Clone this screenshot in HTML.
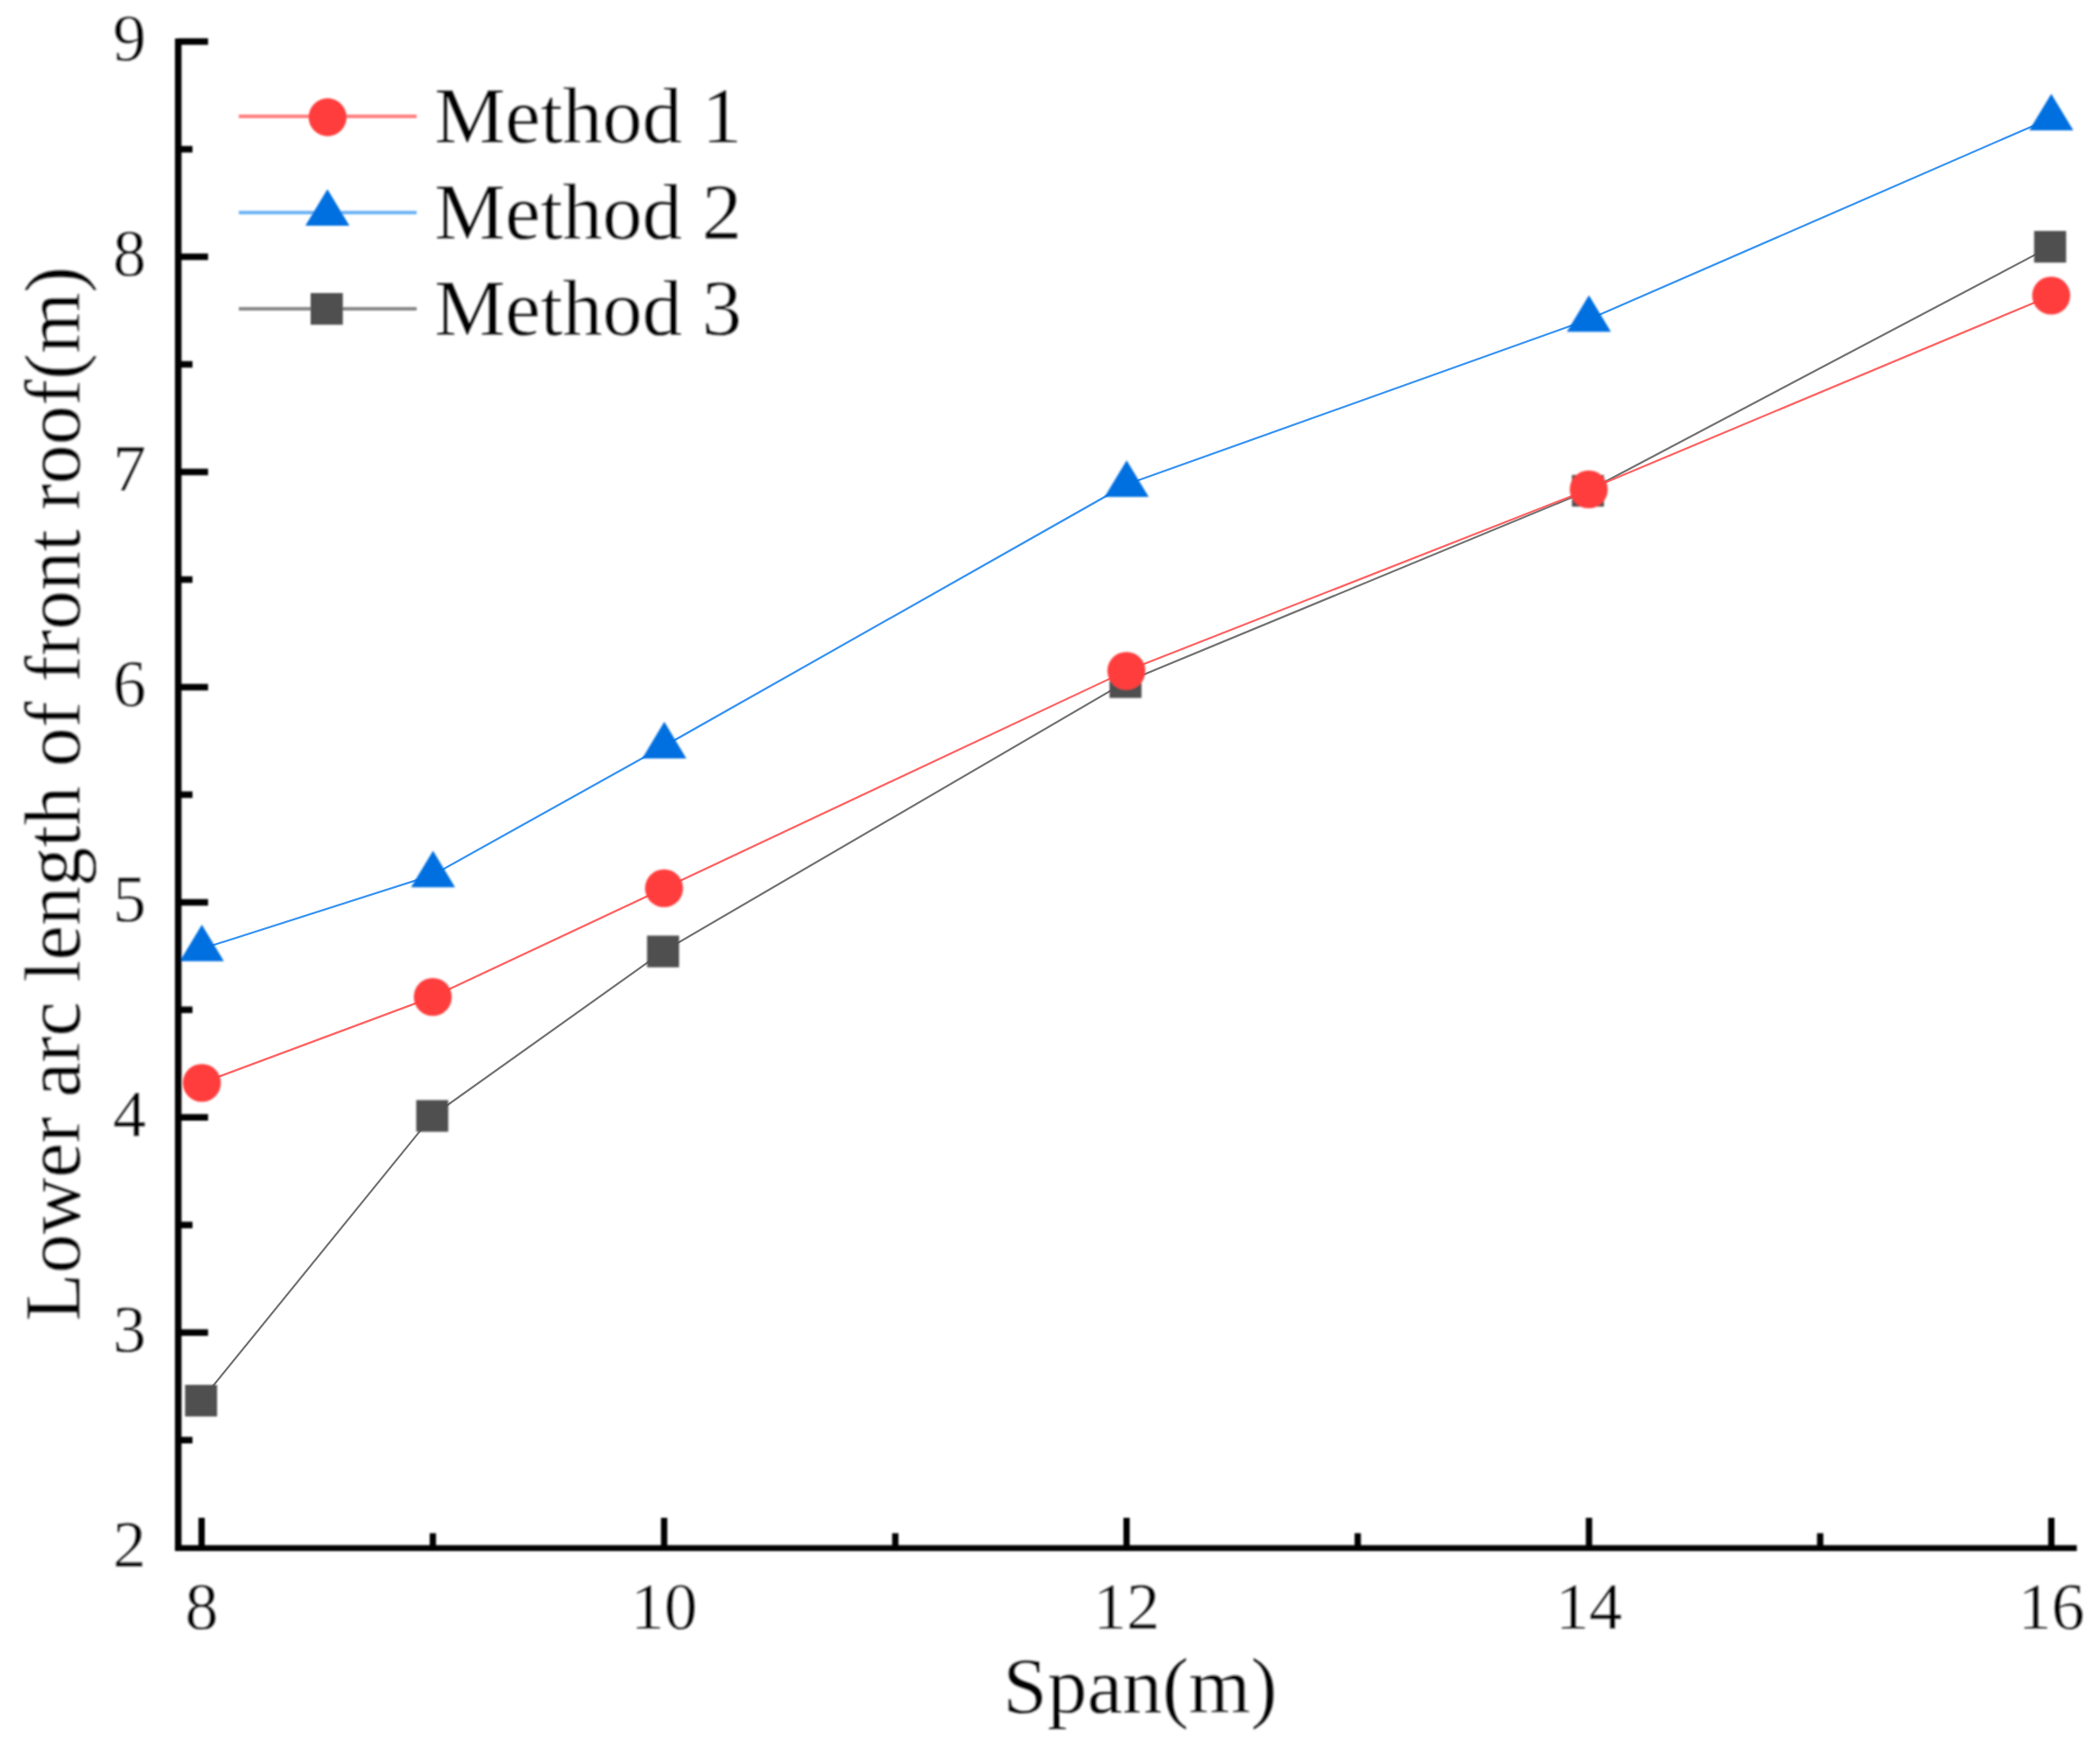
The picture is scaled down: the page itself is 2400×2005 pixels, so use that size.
<!DOCTYPE html>
<html lang="en"><head><meta charset="utf-8"><title>Lower arc length of front roof</title>
<style>
html,body{margin:0;padding:0;background:#fff;}
body{width:2400px;height:2005px;overflow:hidden;}
svg{display:block;}
text{font-family:"Liberation Serif",serif;fill:#000;stroke:#fff;stroke-width:0.35px;}
.tk{font-size:76px;}
.tt{font-size:91px;}
</style></head><body>
<svg width="2400" height="2005" viewBox="0 0 2400 2005">
<rect width="2400" height="2005" fill="#fff"/>
<defs><filter id="soft" x="0" y="0" width="2400" height="2005" filterUnits="userSpaceOnUse"><feGaussianBlur stdDeviation="0.8"/></filter></defs>

<g id="lines" fill="none" stroke-width="2.2" stroke-linejoin="round">
<polyline fill="none" stroke="#707070" stroke-width="2.2" points="229.8,1601.1 494.0,1275.6 757.8,1087.6 1286.3,779.7 1814.8,561.0 2343.0,282.1"/>
<polyline fill="none" stroke="#3391f3" stroke-width="2.2" points="230.7,1084.5 494.9,1000.1 759.2,852.7 1287.6,553.8 1815.9,365.0 2344.3,134.9"/>
<polyline fill="none" stroke="#ff6060" stroke-width="2.2" points="230.7,1237.9 494.6,1139.6 758.9,1015.4 1287.3,766.9 1815.7,559.4 2344.2,337.9"/>
</g>
<g filter="url(#soft)">
<g id="method3" fill="#4f4f4f">
<rect x="211.5" y="1583.0" width="36.6" height="36.2"/>
<rect x="475.7" y="1257.5" width="36.6" height="36.2"/>
<rect x="739.5" y="1069.5" width="36.6" height="36.2"/>
<rect x="1268.0" y="761.6" width="36.6" height="36.2"/>
<rect x="1796.5" y="542.9" width="36.6" height="36.2"/>
<rect x="2324.7" y="264.0" width="36.6" height="36.2"/>
</g>
<g id="method2" fill="#006fe0">
<polygon points="230.7,1056.9 205.5,1098.7 255.9,1098.7"/>
<polygon points="494.9,972.5 469.7,1014.3 520.1,1014.3"/>
<polygon points="759.2,825.1 734.0,866.9 784.4,866.9"/>
<polygon points="1287.6,526.2 1262.4,568.0 1312.8,568.0"/>
<polygon points="1815.9,337.4 1790.7,379.2 1841.1,379.2"/>
<polygon points="2344.3,107.3 2319.1,149.1 2369.5,149.1"/>
</g>
<g id="method1" fill="#ff3d3d">
<circle cx="230.7" cy="1237.9" r="21.7"/>
<circle cx="494.6" cy="1139.6" r="21.7"/>
<circle cx="758.9" cy="1015.4" r="21.7"/>
<circle cx="1287.3" cy="766.9" r="21.7"/>
<circle cx="1815.7" cy="559.4" r="21.7"/>
<circle cx="2344.2" cy="337.9" r="21.7"/>
</g>
<g id="axes" stroke="#000" stroke-width="7.5" fill="none">
<line x1="203.7" y1="44.1" x2="203.7" y2="1773"/>
<line x1="199.95" y1="1769.6" x2="2373.5" y2="1769.6" stroke-width="6.9"/>
<line x1="203.7" y1="1523.3" x2="237.8" y2="1523.3"/>
<line x1="203.7" y1="1277.3" x2="237.8" y2="1277.3"/>
<line x1="203.7" y1="1031.4" x2="237.8" y2="1031.4"/>
<line x1="203.7" y1="785.4" x2="237.8" y2="785.4"/>
<line x1="203.7" y1="539.5" x2="237.8" y2="539.5"/>
<line x1="203.7" y1="293.6" x2="237.8" y2="293.6"/>
<line x1="203.7" y1="47.6" x2="237.8" y2="47.6"/>
<line x1="203.7" y1="1646.2" x2="220" y2="1646.2"/>
<line x1="203.7" y1="1400.3" x2="220" y2="1400.3"/>
<line x1="203.7" y1="1154.3" x2="220" y2="1154.3"/>
<line x1="203.7" y1="908.4" x2="220" y2="908.4"/>
<line x1="203.7" y1="662.5" x2="220" y2="662.5"/>
<line x1="203.7" y1="416.5" x2="220" y2="416.5"/>
<line x1="203.7" y1="170.6" x2="220" y2="170.6"/>
<line x1="230.4" y1="1769.6" x2="230.4" y2="1735" stroke-width="7.2"/>
<line x1="759.0" y1="1769.6" x2="759.0" y2="1735" stroke-width="7.2"/>
<line x1="1287.5" y1="1769.6" x2="1287.5" y2="1735" stroke-width="7.2"/>
<line x1="1816.0" y1="1769.6" x2="1816.0" y2="1735" stroke-width="7.2"/>
<line x1="2344.4" y1="1769.6" x2="2344.4" y2="1735" stroke-width="7.2"/>
<line x1="494.7" y1="1769.6" x2="494.7" y2="1752.6" stroke-width="7.2"/>
<line x1="1023.2" y1="1769.6" x2="1023.2" y2="1752.6" stroke-width="7.2"/>
<line x1="1551.7" y1="1769.6" x2="1551.7" y2="1752.6" stroke-width="7.2"/>
<line x1="2080.2" y1="1769.6" x2="2080.2" y2="1752.6" stroke-width="7.2"/>
</g>
<g class="tk" text-anchor="end">
<text x="167" y="1791.0">2</text>
<text x="167" y="1545.1">3</text>
<text x="167" y="1299.1">4</text>
<text x="167" y="1053.2">5</text>
<text x="167" y="807.2">6</text>
<text x="167" y="561.3">7</text>
<text x="167" y="315.4">8</text>
<text x="167" y="69.4">9</text>
</g>
<g class="tk" text-anchor="middle">
<text x="230.4" y="1861.6">8</text>
<text x="759.0" y="1861.6">10</text>
<text x="1287.5" y="1861.6">12</text>
<text x="1816.0" y="1861.6">14</text>
<text x="2344.4" y="1861.6">16</text>
</g>
<text class="tt" x="1303" y="1958" text-anchor="middle">Span(m)</text>
<text class="tt" transform="translate(91.1,1510.2) rotate(-90)" textLength="1205.6" lengthAdjust="spacingAndGlyphs">Lower arc length of front roof(m)</text>
<g id="legend">
<line x1="272.9" y1="133" x2="476.2" y2="133" stroke="#ff7c7c" stroke-width="3.8"/>
<circle cx="374.4" cy="134" r="21.7" fill="#ff3d3d"/>
<line x1="272.9" y1="243" x2="476.2" y2="243" stroke="#6cb2f5" stroke-width="3.8"/>
<polygon points="374.2,216.3 349,258 399.4,258" fill="#006fe0"/>
<line x1="272.9" y1="353" x2="476.2" y2="353" stroke="#868686" stroke-width="3.8"/>
<rect x="355" y="335" width="36.8" height="36.2" fill="#4f4f4f"/>
<text class="tt" x="496.4" y="163.2">Method 1</text>
<text class="tt" x="496.4" y="273.3">Method 2</text>
<text class="tt" x="496.4" y="383">Method 3</text>
</g>
</g>
</svg>
</body></html>
